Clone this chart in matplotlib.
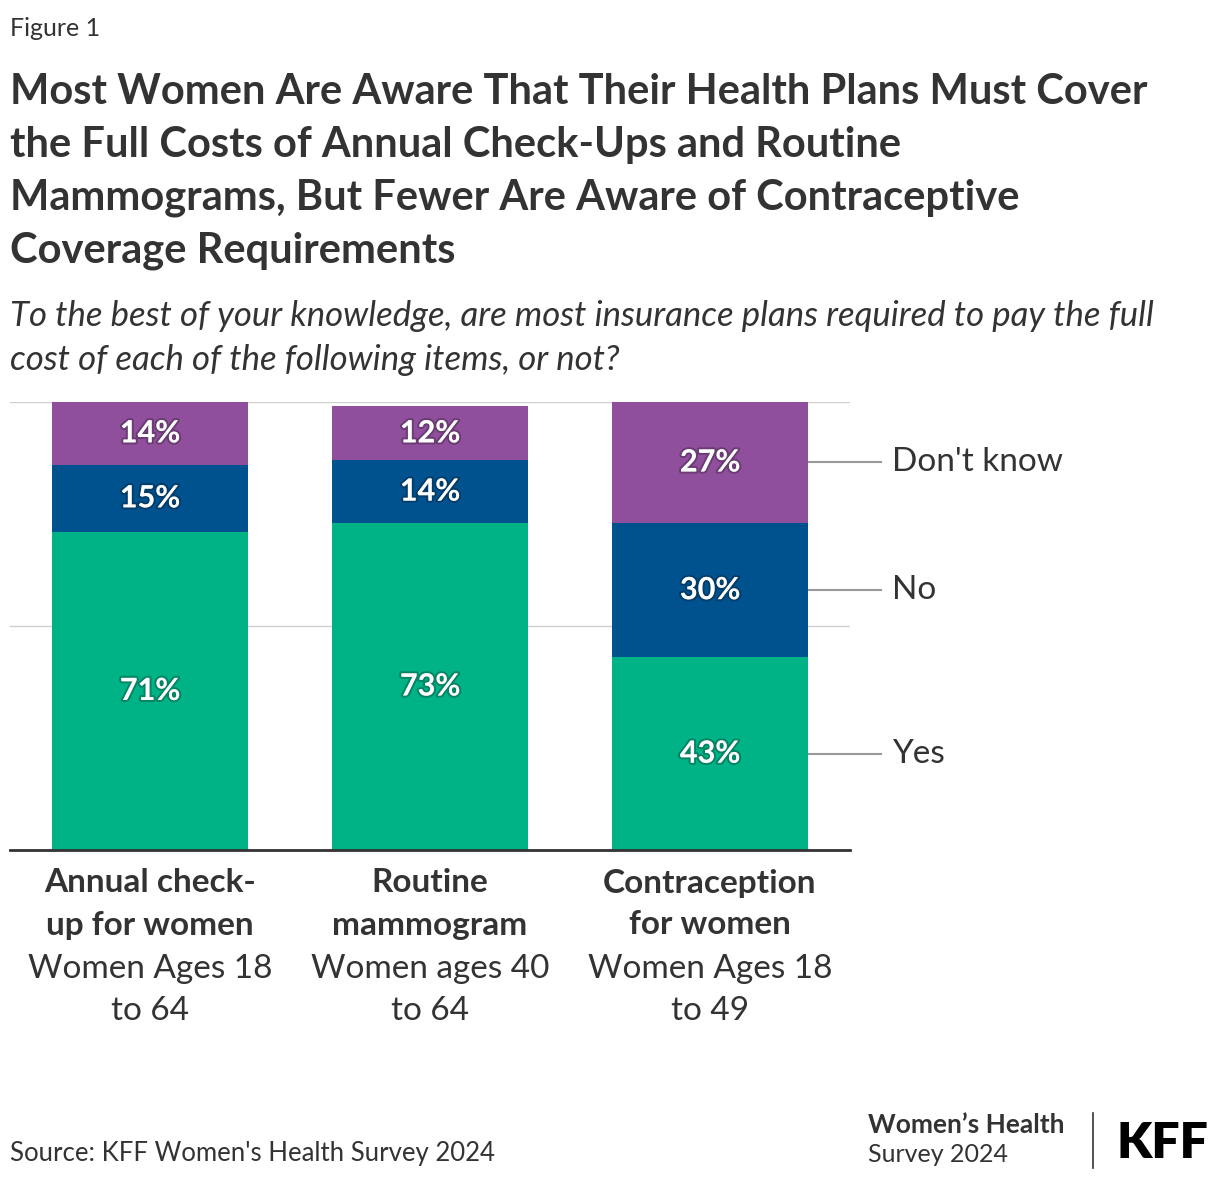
import numpy as np
import matplotlib
matplotlib.use('Agg')
from matplotlib import pyplot as plt
import matplotlib.patheffects as pe

plt.rcParams['font.family'] = ['Lato', 'DejaVu Sans']

# data
cat_main = [['Annual check-', 'up for women'], ['Routine', 'mammogram'], ['Contraception', 'for women']]
cat_sub = [['Women Ages 18', 'to 64'], ['Women ages 40', 'to 64'], ['Women Ages 18', 'to 49']]
series = ['Yes', 'No', "Don't know"]
yes = [71, 73, 43]
no = [15, 14, 30]
dont_know = [14, 12, 27]
colors = ['#00B386', '#00528F', '#904F9C']

W, H = 1220, 1180
fig = plt.figure(figsize=(W/100, H/100), dpi=100)

def fy(y):
    return 1 - y/H

def fx(x):
    return x/W

txt = '#333333'

# header
fig.text(fx(10), fy(28), 'Figure 1', fontsize=18, color=txt, va='center')
title = ['Most Women Are Aware That Their Health Plans Must Cover',
         'the Full Costs of Annual Check-Ups and Routine',
         'Mammograms, But Fewer Are Aware of Contraceptive',
         'Coverage Requirements']
for i, line in enumerate(title):
    fig.text(fx(10), fy(92 + i*53), line, fontsize=30, fontweight='bold', color=txt, va='center')
sub = ['To the best of your knowledge, are most insurance plans required to pay the full',
       'cost of each of the following items, or not?']
for i, line in enumerate(sub):
    fig.text(fx(10), fy(316 + i*44), line, fontsize=25, fontstyle='italic', color=txt, va='center')

# chart
ax = fig.add_axes([fx(10), fy(850), fx(840), 448/H])
x = np.arange(len(yes))
vals = [yes, no, dont_know]
bottom = np.zeros(len(yes))
shadow = [pe.withStroke(linewidth=3, foreground=(0, 0, 0, 0.25))]
for s, v, c in zip(series, vals, colors):
    v = np.array(v)
    ax.bar(x, v, 0.7, bottom=bottom, color=c, zorder=2)
    for xi, b, vi in zip(x, bottom, v):
        ax.text(xi, b + vi/2, f'{vi}%', ha='center', va='center', color='white',
                fontsize=22, fontweight='bold', zorder=3, path_effects=shadow)
    # series label on the right of last bar
    ax.plot([x[-1] + 0.35, x[-1] + 0.61], [bottom[-1] + v[-1]/2]*2, color='#999999', lw=1.5,
            clip_on=False, zorder=1)
    ax.text(x[-1] + 0.65, bottom[-1] + v[-1]/2, s, ha='left', va='center', color=txt,
            fontsize=24)
    bottom = bottom + v

ax.set_xlim(-0.5, 2.5)
ax.set_ylim(0, 100)
ax.set_yticks([50, 100])
ax.yaxis.grid(True, color='#d0d0d0', lw=1, zorder=0)
ax.tick_params(left=False, labelleft=False, bottom=False, labelbottom=False)
for sp in ['top', 'right', 'left']:
    ax.spines[sp].set_visible(False)
ax.spines['bottom'].set_color('#333333')
ax.spines['bottom'].set_linewidth(2)
ax.set_facecolor('none')

for xi, m, s in zip(x, cat_main, cat_sub):
    for j, line in enumerate(m):
        ax.annotate(line, (xi, 0), xytext=(0, -(33 + j*42)), textcoords='offset pixels',
                    ha='center', va='center', fontsize=24, fontweight='bold', color=txt)
    for j, line in enumerate(s):
        ax.annotate(line, (xi, 0), xytext=(0, -(119 + j*42)), textcoords='offset pixels',
                    ha='center', va='center', fontsize=24, color=txt)

# footer
fig.text(fx(10), fy(1153), "Source: KFF Women's Health Survey 2024", fontsize=18.5, color=txt, va='center')
fig.text(fx(868), fy(1125), 'Women\u2019s Health', fontsize=19, fontweight='bold', color=txt, va='center')
fig.text(fx(868), fy(1155), 'Survey 2024', fontsize=18, color=txt, va='center')
fig.add_artist(plt.Line2D([fx(1093)]*2, [fy(1113), fy(1168)], color='#333333', lw=1.2))
fig.text(fx(1116), fy(1143), 'KFF', fontsize=36, fontweight='heavy', color='black', va='center')

fig.savefig('out.png', dpi=100)
